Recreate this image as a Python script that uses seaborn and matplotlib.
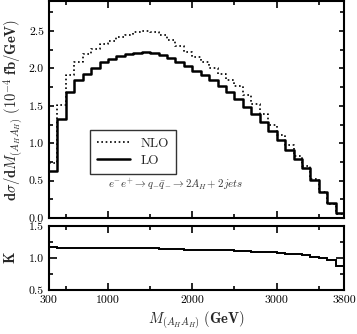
import numpy as np
import pandas as pd
import matplotlib
matplotlib.use('Agg')
import matplotlib.pyplot as plt
import seaborn as sns
from matplotlib.ticker import FixedLocator, FuncFormatter

# bin edges in GeV (100 GeV bins from 300 to 3800)
edges = np.arange(300, 3801, 100)
centers = (edges[:-1] + edges[1:]) / 2

lo = [0.63, 1.33, 1.69, 1.84, 1.93, 2.01, 2.08, 2.13, 2.17, 2.19,
      2.21, 2.22, 2.21, 2.18, 2.14, 2.09, 2.03, 1.97, 1.91, 1.84,
      1.76, 1.68, 1.59, 1.48, 1.39, 1.28, 1.16, 1.04, 0.91, 0.79,
      0.67, 0.51, 0.35, 0.20, 0.07]
nlo = [0.73, 1.51, 1.91, 2.08, 2.19, 2.26, 2.32, 2.37, 2.42, 2.45,
       2.48, 2.50, 2.48, 2.44, 2.38, 2.30, 2.22, 2.15, 2.08, 2.00,
       1.93, 1.85, 1.76, 1.64, 1.52, 1.39, 1.25, 1.11, 0.97, 0.83,
       0.70, 0.52, 0.35, 0.19, 0.06]
kfac = [1.17, 1.15, 1.15, 1.15, 1.15, 1.15, 1.16, 1.15, 1.15, 1.15,
        1.16, 1.15, 1.15, 1.14, 1.14, 1.14, 1.13, 1.13, 1.13, 1.13,
        1.12, 1.12, 1.11, 1.11, 1.10, 1.10, 1.09, 1.08, 1.07, 1.06,
        1.04, 1.02, 1.00, 0.97, 0.88]

df = pd.DataFrame({'mass': centers, 'LO': lo, 'NLO': nlo, 'K': kfac})

sns.set_style('ticks')
plt.rcParams['font.family'] = ['cmr10', 'DejaVu Serif']
plt.rcParams['mathtext.fontset'] = 'cm'
plt.rcParams['axes.formatter.use_mathtext'] = True
plt.rcParams['axes.unicode_minus'] = False

fig = plt.figure(figsize=(3.57, 3.34), dpi=100)
ax = fig.add_axes([0.137, 0.347, 0.827, 0.650])
axk = fig.add_axes([0.137, 0.132, 0.827, 0.191])

# top panel: differential cross section
sns.histplot(data=df, x='mass', weights='NLO', binwidth=100, binrange=(300, 3800),
             element='step', fill=False, color='black',
             linestyle=(0, (1, 1.6)), linewidth=1.2, label='NLO', ax=ax)
sns.histplot(data=df, x='mass', weights='LO', binwidth=100, binrange=(300, 3800),
             element='step', fill=False, color='black', linewidth=1.8,
             label='LO', ax=ax)

ax.set_xlim(300, 3800)
ax.set_ylim(0, 2.9)
ax.set_xlabel('')
ax.set_ylabel(r'$\mathbf{d}\sigma/\mathbf{d}M_{(A_HA_H)}\ \mathbf{(10^{-4}\ fb/GeV)}$',
              fontsize=10.5, labelpad=3)
ax.yaxis.set_major_locator(FixedLocator([0.0, 0.5, 1.0, 1.5, 2.0, 2.5]))
ax.yaxis.set_minor_locator(FixedLocator([0.25, 0.75, 1.25, 1.75, 2.25, 2.75]))
ax.yaxis.set_major_formatter(FuncFormatter(lambda v, p: f'{v:.1f}'))
ax.xaxis.set_major_locator(FixedLocator([1000, 2000, 3000]))
ax.xaxis.set_minor_locator(FixedLocator([500, 1500, 2500, 3500]))
ax.tick_params(axis='x', labelbottom=False)

leg = ax.legend(loc='upper left', bbox_to_anchor=(0.138, 0.405), fontsize=9.5,
                frameon=True, fancybox=False, edgecolor='black',
                handlelength=2.5, borderpad=0.55, labelspacing=0.35,
                handletextpad=0.8, borderaxespad=0.0)
leg.get_frame().set_linewidth(1.0)

ax.text(1800, 0.46, r'$e^{-}e^{+}\rightarrow q_{-}\bar{q}_{-}\rightarrow 2A_{H}\!+\,2jets$',
        ha='center', va='center', fontsize=7.8, color='#333333')

# bottom panel: K factor
axk.stairs(df['K'], edges, color='black', linewidth=1.4)
axk.set_xlim(300, 3800)
axk.set_ylim(0.5, 1.5)
axk.set_ylabel(r'$\mathbf{K}$', fontsize=10.5, labelpad=8)
axk.set_xlabel(r'$M_{(A_HA_H)}\ \mathbf{(GeV)}$', fontsize=10.5, labelpad=3)
axk.xaxis.set_major_locator(FixedLocator([300, 1000, 2000, 3000, 3800]))
axk.xaxis.set_minor_locator(FixedLocator([500, 1500, 2500, 3500]))
axk.yaxis.set_major_locator(FixedLocator([0.5, 1.0, 1.5]))
axk.yaxis.set_minor_locator(FixedLocator([0.75, 1.25]))
axk.yaxis.set_major_formatter(FuncFormatter(lambda v, p: f'{v:.1f}'))
axk.xaxis.set_major_formatter(FuncFormatter(lambda v, p: f'{int(v)}'))

for a in (ax, axk):
    for s in a.spines.values():
        s.set_linewidth(1.5)
        s.set_color('black')
    a.tick_params(which='both', direction='in', top=True, right=True,
                  width=1.2, labelsize=8.5, colors='black')
    a.tick_params(which='major', length=3.5)
    a.tick_params(which='minor', length=3)
    a.tick_params(axis='x', which='major', length=5)

axk.tick_params(axis='y', which='major', length=6)
axk.tick_params(axis='x', which='major', pad=4)

fig.savefig('out.png', dpi=100)
